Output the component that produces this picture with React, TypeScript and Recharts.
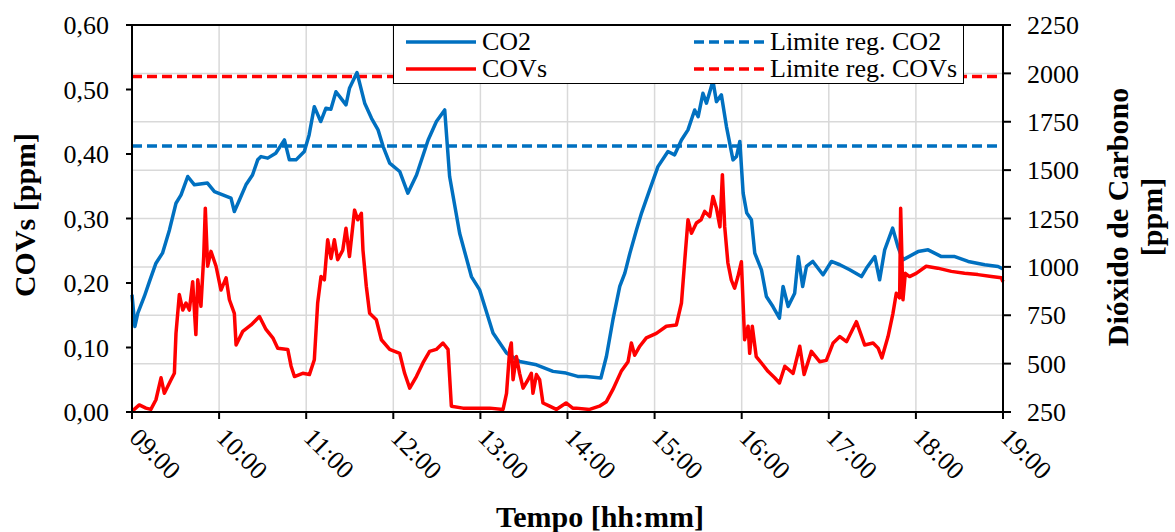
import React from "react";
import {
  ComposedChart,
  Line,
  XAxis,
  YAxis,
  CartesianGrid,
  ReferenceLine,
  Legend,
} from "recharts";

const FONT = "'Liberation Serif', 'Times New Roman', serif";
const BLUE = "#0070C0";
const RED = "#FF0000";

// minuti dalle 09:00
const HOUR_TICKS = [0, 60, 120, 180, 240, 300, 360, 420, 480, 540, 600];
const HOUR_LABELS = ["09:00", "10:00", "11:00", "12:00", "13:00", "14:00", "15:00", "16:00", "17:00", "18:00", "19:00"];

const COV_TICKS = [0, 0.1, 0.2, 0.3, 0.4, 0.5, 0.6];
const CO2_TICKS = [250, 500, 750, 1000, 1250, 1500, 1750, 2000, 2250];

const CO2_LIMIT = 1625;
const COV_LIMIT = 0.52;

const CO2_T = [
  0, 2, 4, 8.5, 12, 16.5, 21, 25.8, 30.3, 33.8, 38.4, 43, 52, 56.8, 62.5, 68.2, 70.5, 74, 78.5, 83,
  86.6, 88.9, 93.5, 99, 105, 108.4, 113, 118.7, 122, 125.6, 130, 133.6, 137, 140.5, 144, 147.4, 149.8, 155,
  160.3, 165, 169.5, 173, 177.5, 184.4, 190, 196, 204, 209.7, 215.4, 218.8, 225.7, 233.8, 239.5, 248.7,
  258, 267, 278.6, 290, 299, 307, 313, 323, 326.8, 331.3, 336, 339.5, 343, 347.5, 351, 356.6, 362.3,
  369.2, 373.8, 378.5, 383, 387.6, 390, 393.3, 395.7, 400.2, 402.6, 406, 409.5, 414, 416.4, 418.7, 421,
  423.5, 426.7, 429, 433.6, 437, 441.5, 446, 448.5, 452, 456.5, 459, 462, 464.6, 469, 476, 481.8, 487.6,
  494.4, 502.5, 506, 511.7, 515, 518.5, 524, 527.6, 531, 541.5, 548.4, 557.6, 566.8, 576, 587.4, 596.6, 600,
];
const CO2_V = [
  856, 692, 761, 847, 924, 1019, 1071, 1191, 1329, 1372, 1467, 1424, 1433, 1389, 1372, 1355, 1286, 1346, 1424, 1475,
  1553, 1570, 1562, 1587, 1656, 1553, 1553, 1596, 1682, 1828, 1751, 1820, 1815, 1905, 1871, 1837, 1923, 2004,
  1846, 1768, 1708, 1622, 1536, 1493, 1381, 1475, 1656, 1751, 1811, 1467, 1174, 950, 881, 658,
  555, 511, 494, 460, 451, 434, 434, 426, 537, 727, 899, 968, 1071, 1191, 1278, 1398, 1518,
  1596, 1579, 1656, 1708, 1811, 1776, 1897, 1846, 1960, 1854, 1889, 1725, 1553, 1570, 1648, 1381,
  1278, 1244, 1071, 985, 847, 795, 735, 899, 795, 864, 1053, 899, 1002, 1028, 959, 1028, 1011,
  985, 950, 994, 1053, 933, 1088, 1200, 1105, 1036, 1079, 1088, 1053, 1053, 1028, 1011, 1002, 990,
];

const COV_T = [
  0, 5, 9.6, 13, 16.5, 20, 22.3, 26.9, 29.2, 30.3, 32.6, 35, 37.2, 39.5, 41.8, 44, 45.3, 47.5, 49.4, 50.5,
  52.1, 54.4, 57.9, 61.3, 64.8, 67.1, 70.5, 71.7, 76.3, 82, 87.8, 92.3, 97, 100.4, 107.3, 109.6, 111.9,
  117.6, 122.2, 125.6, 127.9, 130.2, 132.5, 134.8, 137.1, 139.4, 141.7, 145.2, 147.4, 149.8, 153.3, 155.5,
  158, 159.1, 161.4, 163.7, 168.3, 171.8, 177.5, 184.4, 187.8, 191.3, 195.9, 200.4, 205, 209.6, 214.2,
  217.7, 220, 228, 237, 246.5, 255.6, 258, 260.2, 261.3, 262.5, 264.8, 267, 269.4, 272.8, 275.1, 276.2,
  278.6, 280.8, 283.1, 287.7, 292.3, 299, 303.6, 306, 315.2, 322, 326.8, 331.3, 337, 341.7, 344, 346.3,
  349.8, 354.3, 361.2, 368.1, 375, 378.5, 380.8, 383, 385.4, 388.8, 392, 394.5, 398, 400.2, 402.6, 405,
  406.7, 408.3, 410.5, 412.8, 415.1, 417.4, 419.8, 422, 424.4, 425.5, 427.3, 430, 433.6, 438.1, 442.7,
  446, 449.7, 455.4, 460, 463, 468, 473.7, 478.3, 483, 487.6, 492.2, 499, 504.7, 510.5, 514, 516.6, 520.8,
  524.2, 526.5, 528.8, 529.5, 531.1, 532.7, 535.6, 540.2, 547.1, 555, 564.4, 573.5, 582.7, 592, 598.8, 600,
];
const COV_V = [
  0.001, 0.011, 0.006, 0.004, 0.019, 0.053, 0.029, 0.05, 0.06, 0.122, 0.182, 0.158, 0.169, 0.158, 0.202, 0.12, 0.205, 0.164, 0.241, 0.316,
  0.226, 0.249, 0.226, 0.189, 0.208, 0.174, 0.153, 0.104, 0.125, 0.135, 0.148, 0.128, 0.115, 0.099, 0.097, 0.071, 0.055,
  0.06, 0.058, 0.081, 0.169, 0.21, 0.205, 0.267, 0.238, 0.267, 0.236, 0.251, 0.285, 0.241, 0.313, 0.298,
  0.308, 0.251, 0.195, 0.153, 0.143, 0.112, 0.097, 0.091, 0.06, 0.037, 0.055, 0.076, 0.094, 0.097, 0.107,
  0.097, 0.009, 0.006, 0.006, 0.006, 0.004, 0.029, 0.097, 0.107, 0.05, 0.086, 0.06, 0.037, 0.05, 0.06, 0.029,
  0.058, 0.05, 0.014, 0.009, 0.004, 0.014, 0.006, 0.006, 0.004, 0.009, 0.016, 0.035, 0.063, 0.078, 0.107, 0.088,
  0.102, 0.115, 0.122, 0.133, 0.135, 0.169, 0.236, 0.298, 0.277, 0.293, 0.298, 0.311, 0.303, 0.334, 0.316, 0.287,
  0.368, 0.287, 0.231, 0.205, 0.192, 0.21, 0.233, 0.112, 0.133, 0.091, 0.133, 0.086, 0.076, 0.063, 0.053,
  0.045, 0.071, 0.06, 0.102, 0.058, 0.094, 0.078, 0.08, 0.107, 0.117, 0.109, 0.14, 0.104, 0.107, 0.099, 0.084, 0.117,
  0.153, 0.184, 0.177, 0.316, 0.174, 0.215, 0.21, 0.215, 0.226, 0.223, 0.218, 0.215, 0.213, 0.21, 0.208, 0.202,
];

const LEGEND = [
  { name: "CO2", color: BLUE, dashed: false },
  { name: "Limite reg. CO2", color: BLUE, dashed: true },
  { name: "COVs", color: RED, dashed: false },
  { name: "Limite reg. COVs", color: RED, dashed: true },
];

const co2Data = CO2_T.map((t, i) => ({ t, v: CO2_V[i] }));
const covData = COV_T.map((t, i) => ({ t, v: COV_V[i] }));
const co2LimitData = [0, 600].map((t) => ({ t, v: CO2_LIMIT }));
const covLimitData = [0, 600].map((t) => ({ t, v: COV_LIMIT }));

function HourTick(props: any) {
  const { x, y, payload } = props;
  const i = HOUR_TICKS.indexOf(payload.value);
  return (
    <g transform={`translate(${x - 4},${y + 20})`}>
      <text transform="rotate(45)" textAnchor="start" fontFamily={FONT} fontSize={26} fill="#000">
        {HOUR_LABELS[i]}
      </text>
    </g>
  );
}

function LegendBox() {
  const cell = (it: any, left: number, top: number) => (
    <div key={it.name} style={{ position: "absolute", left, top, height: 28, display: "flex", alignItems: "center" }}>
      <svg width={74} height={10} style={{ display: "block" }}>
        <line x1={2} x2={72} y1={5} y2={5} stroke={it.color} strokeWidth={3.5}
          strokeDasharray={it.dashed ? "10 5" : undefined} />
      </svg>
      <span style={{ marginLeft: 4, lineHeight: "28px" }}>{it.name}</span>
    </div>
  );
  return (
    <div style={{
      position: "relative", width: 571, height: 59, boxSizing: "border-box",
      border: "1.5px solid #000", background: "#fff", fontFamily: FONT, fontSize: 26, color: "#000",
    }}>
      {cell(LEGEND[0], 10, 2)}
      {cell(LEGEND[1], 298, 2)}
      {cell(LEGEND[2], 10, 29)}
      {cell(LEGEND[3], 298, 29)}
    </div>
  );
}

export default function App() {
  return (
    <div style={{ position: "absolute", left: 0, top: 0, width: 1175, height: 532, background: "#fff" }}>
      <ComposedChart width={1175} height={532} margin={{ top: 25, right: 0, bottom: 0, left: 0 }}>
        <CartesianGrid yAxisId="co2" stroke="#D9D9D9" strokeWidth={1.5} />
        <XAxis
          type="number"
          dataKey="t"
          domain={[0, 600]}
          ticks={HOUR_TICKS}
          interval={0}
          height={120}
          tickSize={7}
          tickMargin={0}
          axisLine={{ stroke: "#000", strokeWidth: 2 }}
          tickLine={{ stroke: "#000", strokeWidth: 2 }}
          tick={<HourTick />}
          allowDuplicatedCategory={false}
        />
        <YAxis
          yAxisId="cov"
          orientation="left"
          width={132}
          domain={[0, 0.6]}
          ticks={COV_TICKS}
          interval={0}
          tickSize={6}
          tickMargin={17}
          tickFormatter={(v: number) => v.toFixed(2).replace(".", ",")}
          tick={{ fontFamily: FONT, fontSize: 26, fill: "#000" }}
          axisLine={{ stroke: "#000", strokeWidth: 2 }}
          tickLine={{ stroke: "#000", strokeWidth: 2 }}
        />
        <YAxis
          yAxisId="co2"
          orientation="right"
          width={172}
          domain={[250, 2250]}
          ticks={CO2_TICKS}
          interval={0}
          tickSize={8}
          tickMargin={16}
          tick={{ fontFamily: FONT, fontSize: 26, fill: "#000" }}
          axisLine={{ stroke: "#000", strokeWidth: 2 }}
          tickLine={{ stroke: "#000", strokeWidth: 2 }}
        />
        <ReferenceLine yAxisId="cov" y={0.6} stroke="#000" strokeWidth={2} />

        <Line yAxisId="co2" data={co2LimitData} dataKey="v" stroke={BLUE} strokeWidth={3.5}
          strokeDasharray="10 5" dot={false} isAnimationActive={false} />
        <Line yAxisId="cov" data={covLimitData} dataKey="v" stroke={RED} strokeWidth={3.5}
          strokeDasharray="10 5" dot={false} isAnimationActive={false} />
        <Line yAxisId="co2" data={co2Data} dataKey="v" stroke={BLUE} strokeWidth={3.5}
          dot={false} isAnimationActive={false} strokeLinejoin="round" />
        <Line yAxisId="cov" data={covData} dataKey="v" stroke={RED} strokeWidth={3.5}
          dot={false} isAnimationActive={false} strokeLinejoin="round" />

        <Legend
          layout="horizontal"
          verticalAlign="middle"
          align="center"
          content={() => <LegendBox />}
          wrapperStyle={{ position: "absolute", left: 393, top: 25, width: 571, height: 59, margin: 0, padding: 0 }}
        />
      </ComposedChart>

      <svg width={1175} height={532} style={{ position: "absolute", left: 0, top: 0, pointerEvents: "none" }}>
        <text x={35} y={215} transform="rotate(-90, 35, 215)" textAnchor="middle"
          fontFamily={FONT} fontSize={30} fontWeight="bold">COVs [ppm]</text>
        <text x={1128} y={217} transform="rotate(-90, 1128, 217)" textAnchor="middle"
          fontFamily={FONT} fontSize={30} fontWeight="bold">Dióxido de Carbono</text>
        <text x={1162} y={217} transform="rotate(-90, 1162, 217)" textAnchor="middle"
          fontFamily={FONT} fontSize={30} fontWeight="bold">[ppm]</text>
        <text x={600} y={527} textAnchor="middle" fontFamily={FONT} fontSize={30} fontWeight="bold">
          Tempo [hh:mm]
        </text>
      </svg>
    </div>
  );
}
